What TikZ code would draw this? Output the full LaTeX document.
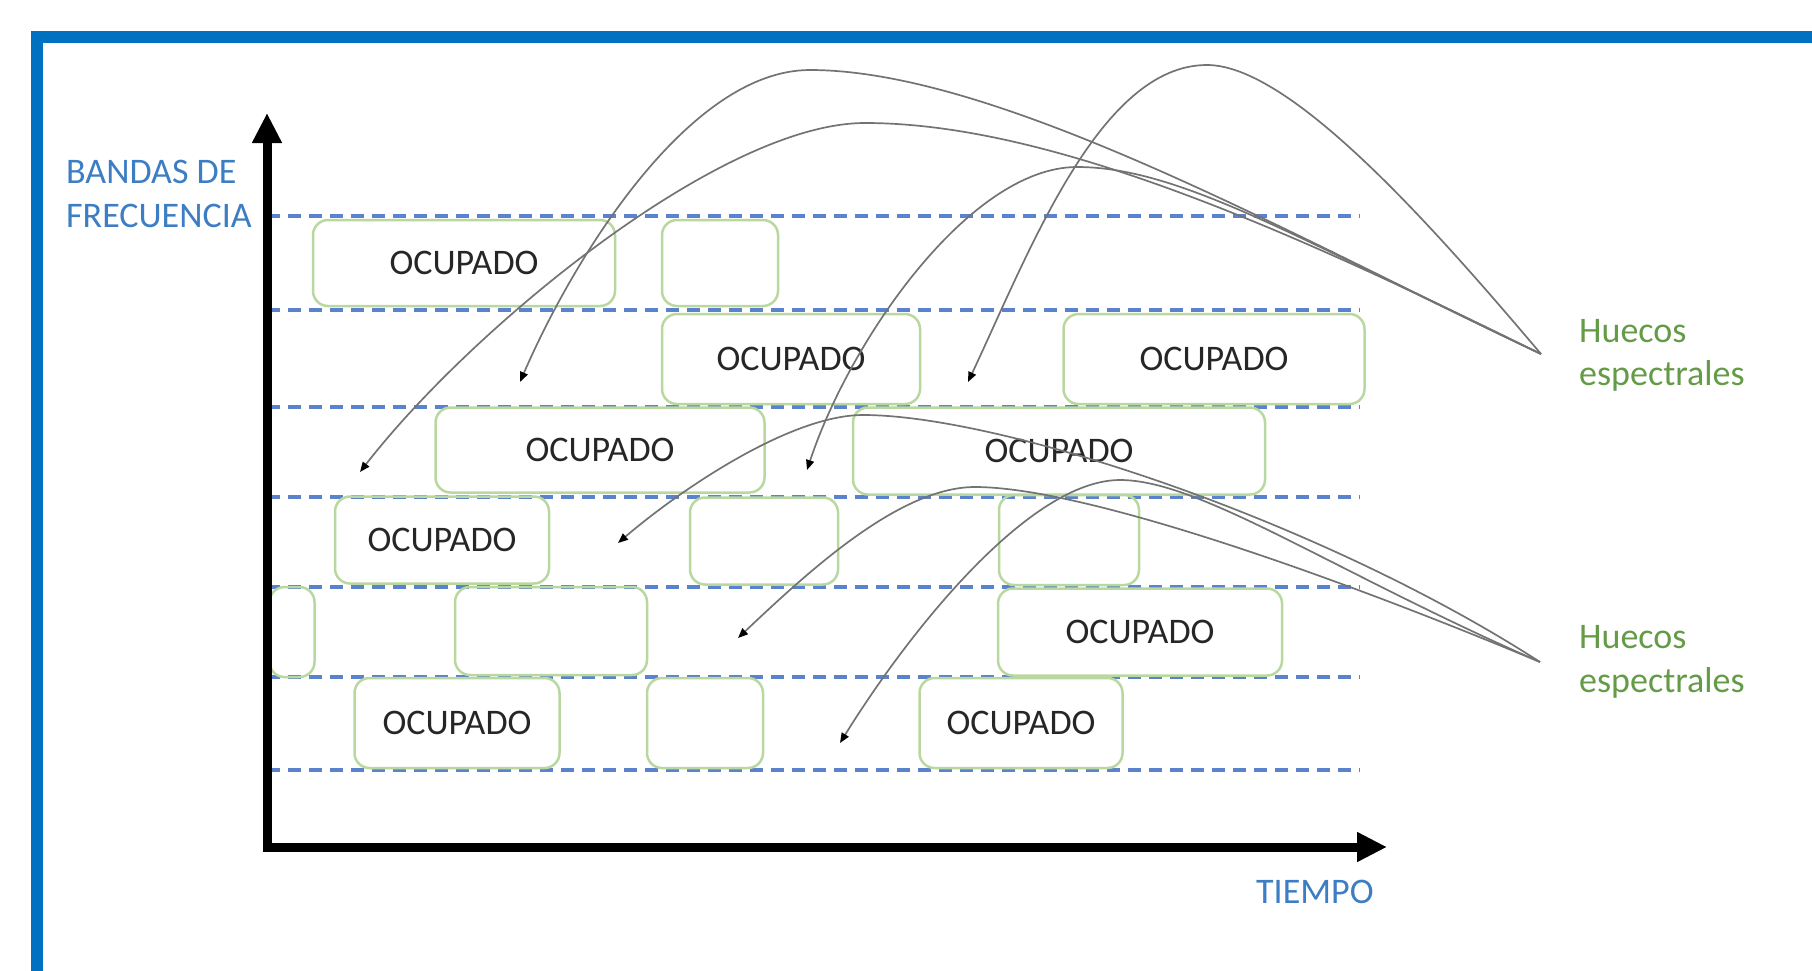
\documentclass[tikz,border=0pt]{standalone}
\usepackage{fontspec}
\setmainfont{Carlito}
\usetikzlibrary{arrows.meta}
\definecolor{framecol}{RGB}{0,112,192}
\definecolor{bandcol}{RGB}{90,130,205}
\definecolor{boxcol}{RGB}{185,216,160}
\definecolor{labblue}{RGB}{60,125,195}
\definecolor{labgreen}{RGB}{100,155,70}
\definecolor{linkcol}{RGB}{115,115,115}
\begin{document}
\begin{tikzpicture}[x=1pt,y=-1pt,
  band/.style={bandcol, line width=3.5pt, dash pattern=on 13pt off 8pt},
  slot/.style={draw=boxcol, line width=2.5pt, rounded corners=15pt, rectangle, inner sep=0pt,
    font=\fontsize{36}{43}\selectfont, text=black!85},
  axis/.style={line width=9pt, -{Triangle[length=30pt,width=28pt]}},
  link/.style={linkcol, line width=1.7pt, -{Triangle[length=10pt,width=8pt,color=black]}},
  lab/.style={inner sep=0pt, font=\fontsize{36}{43}\selectfont, anchor=base west},
]
\useasboundingbox (0,0) rectangle (1812,970);
\clip (0,0) rectangle (1812,970);
% frame
\draw[framecol, line width=12pt] (37,37) rectangle (1900,1100);
% frequency bands
\foreach \yy in {216,310,407,497,587,677,770}
  \draw[band] (267,\yy) -- (1360,\yy);
% slots
\node[slot, minimum width=302pt, minimum height=86pt] (bA) at (464,263) {OCUPADO};
\node[slot, minimum width=116pt, minimum height=86pt] (bB) at (720,263) {};
\node[slot, minimum width=258pt, minimum height=90pt] (bC) at (791,359) {OCUPADO};
\node[slot, minimum width=301pt, minimum height=90pt] (bD) at (1214,359) {OCUPADO};
\node[slot, minimum width=329pt, minimum height=85pt] (bE) at (600,450) {OCUPADO};
\node[slot, minimum width=412pt, minimum height=87pt] (bF) at (1059,451) {OCUPADO};
\node[slot, minimum width=214pt, minimum height=87pt] (bG) at (442,540) {OCUPADO};
\node[slot, minimum width=148pt, minimum height=87pt] (bH) at (764,541) {};
\node[slot, minimum width=140pt, minimum height=90pt] (bI) at (1069,540) {};
\node[slot, minimum width=45pt, minimum height=90pt] (bJ) at (292,632) {};
\node[slot, minimum width=192pt, minimum height=88pt] (bK) at (551,631) {};
\node[slot, minimum width=284pt, minimum height=87pt] (bL) at (1140,632) {OCUPADO};
\node[slot, minimum width=205pt, minimum height=90pt] (bM) at (457,723) {OCUPADO};
\node[slot, minimum width=116pt, minimum height=90pt] (bN) at (705,723) {};
\node[slot, minimum width=203pt, minimum height=90pt] (bO) at (1021,723) {OCUPADO};
% axes
\coordinate (yo) at (267,851);
\coordinate (ytip) at (267,113);
\coordinate (xo) at (263,847);
\coordinate (xtip) at (1387,847);
\draw[axis] (yo) -- (ytip);
\draw[axis] (xo) -- (xtip);
% labels
\node[lab, labblue] (yl1) at (66,183) {BANDAS DE};
\node[lab, labblue] (yl2) at (66,227) {FRECUENCIA};
\node[lab, labblue] (xl) at (1256,903) {TIEMPO};
\node[lab, labgreen] (g1a) at (1579,342) {Huecos};
\node[lab, labgreen] (g1b) at (1579,385) {espectrales};
\node[lab, labgreen] (g2a) at (1579,648) {Huecos};
\node[lab, labgreen] (g2b) at (1579,692) {espectrales};
% connector anchors
\coordinate (h1) at (1541,354);
\coordinate (h2) at (1540,662);
\coordinate (t1) at (520,382);
\coordinate (t2) at (360,472);
\coordinate (t3) at (807,470);
\coordinate (t4) at (968,382);
\coordinate (b1) at (618,543);
\coordinate (b2) at (738,638);
\coordinate (b3) at (840,743);
% connectors
\draw[link] (h1) .. controls (1300,240) and (1000,70) .. (810,70) .. controls (690,70) and (575,255) .. (t1);
\draw[link] (h1) .. controls (1290,230) and (1050,123) .. (865,123) .. controls (720,123) and (470,330) .. (t2);
\draw[link] (h1) .. controls (1300,240) and (1180,167) .. (1077,167) .. controls (970,167) and (850,340) .. (t3);
\draw[link] (h1) .. controls (1431,224) and (1290,65) .. (1207,65) .. controls (1100,65) and (1030,250) .. (t4);
\draw[link] (h2) .. controls (1320,520) and (1000,415) .. (863,415) .. controls (790,415) and (680,490) .. (b1);
\draw[link] (h2) .. controls (1320,570) and (1080,487) .. (975,487) .. controls (900,487) and (810,570) .. (b2);
\draw[link] (h2) .. controls (1330,570) and (1200,480) .. (1120,480) .. controls (1030,480) and (910,630) .. (b3);
\end{tikzpicture}
\end{document}
